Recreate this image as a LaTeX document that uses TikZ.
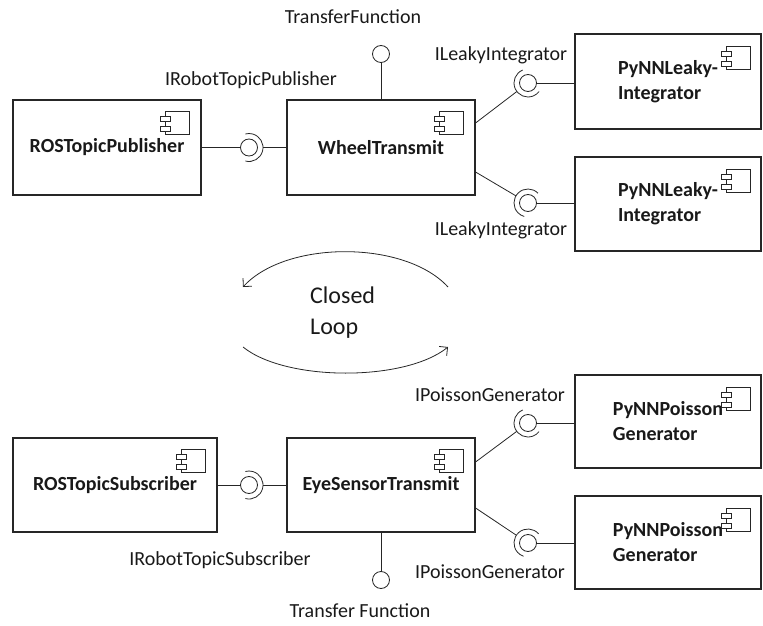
\documentclass[tikz,border=0pt]{standalone}
\usepackage{fontspec}
\setmainfont{Carlito}
\usetikzlibrary{calc,arrows.meta}
\newcommand\mysocket[2]{%
  \draw[conn] let \p1=($(#2)-(#1.center)$), \n1={atan2(\y1,\x1)} in
    ([shift={(\n1-105:14pt)}]#1.center) arc[start angle=\n1-105, end angle=\n1+105, radius=14pt];}
\begin{document}
\begin{tikzpicture}[x=1pt,y=1pt,
  comp/.style={draw=black!85, line width=1.1pt, rectangle, inner sep=0pt},
  lbl/.style={font=\fontsize{20}{24}\selectfont, text=black!90, inner sep=0pt},
  blbl/.style={font=\fontsize{20}{25}\selectfont\bfseries, text=black!90},
  ball/.style={draw=black!85, circle, minimum size=17pt, inner sep=0pt, line width=0.8pt},
  zone/.style={circle, minimum size=28pt, inner sep=0pt},
  conn/.style={draw=black!85, line width=0.8pt},
  compicon/.pic={
    \draw[line width=0.7pt, draw=black!85] (-24,-23) rectangle (0,0);
    \draw[line width=0.7pt, draw=black!85, fill=white] (-29,-5) rectangle (-19,-10);
    \draw[line width=0.7pt, draw=black!85, fill=white] (-29,-15) rectangle (-19,-20);
  },
  loop/.style={draw=black!85, line width=0.8pt, -{Straight Barb[length=6pt,width=12pt]}}
]
\useasboundingbox (0,0) rectangle (763,625);

% upper component boxes
\node[comp, blbl, minimum width=188pt, minimum height=95pt] (rp) at (107,477.5) {ROSTopicPublisher};
\node[comp, blbl, minimum width=188pt, minimum height=95pt] (wt) at (381,477.5) {WheelTransmit};
\node[comp, blbl, align=left, minimum width=186pt, minimum height=95pt] (pl1) at (668,543.5) {PyNNLeaky-\\Integrator};
\node[comp, blbl, align=left, minimum width=186pt, minimum height=94pt] (pl2) at (668,421) {PyNNLeaky-\\Integrator};

% lower component boxes
\node[comp, blbl, minimum width=204pt, minimum height=94pt] (rs) at (115,140) {ROSTopicSubscriber};
\node[comp, blbl, minimum width=188pt, minimum height=94pt] (es) at (381,140) {EyeSensorTransmit};
\node[comp, blbl, align=left, minimum width=186pt, minimum height=93pt] (pp1) at (668,203.5) {PyNNPoisson\\Generator};
\node[comp, blbl, align=left, minimum width=186pt, minimum height=93pt] (pp2) at (668,82.5) {PyNNPoisson\\Generator};

% component icons
\pic at ([shift={(-12,-12)}]rp.north east) {compicon};
\pic at ([shift={(-12,-12)}]wt.north east) {compicon};
\pic at ([shift={(-11,-13)}]pl1.north east) {compicon};
\pic at ([shift={(-11,-13)}]pl2.north east) {compicon};
\pic at ([shift={(-12,-12)}]rs.north east) {compicon};
\pic at ([shift={(-12,-12)}]es.north east) {compicon};
\pic at ([shift={(-11,-13)}]pp1.north east) {compicon};
\pic at ([shift={(-11,-13)}]pp2.north east) {compicon};

% ---- upper interfaces
\node[ball] (b1) at (249,477.5) {};
\node[zone] (k1) at (249,477.5) {};
\draw[conn] (rp.east) -- (b1);
\draw[conn] (k1) -- (wt.west);
\mysocket{k1}{wt.west}

\node[ball] (b0) at (381,571) {};
\draw[conn] (wt.north) -- (b0);

\coordinate (w1) at ([yshift=24.5pt]wt.east);
\coordinate (w2) at ([yshift=-24.5pt]wt.east);
\node[ball] (b3) at (528,542) {};
\node[zone] (k3) at (528,542) {};
\draw[conn] (w1) -- (k3);
\mysocket{k3}{w1}
\draw[conn] (b3) -- (b3 -| pl1.west);

\node[ball] (b4) at (528,422) {};
\node[zone] (k4) at (528,422) {};
\draw[conn] (w2) -- (k4);
\mysocket{k4}{w2}
\draw[conn] (b4) -- (b4 -| pl2.west);

% ---- lower interfaces
\node[ball] (b5) at (249,140) {};
\node[zone] (k5) at (249,140) {};
\draw[conn] (rs.east) -- (b5);
\draw[conn] (k5) -- (es.west);
\mysocket{k5}{es.west}

\node[ball] (b6) at (381,45) {};
\draw[conn] (es.south) -- (b6);

\coordinate (e1) at ([yshift=23pt]es.east);
\coordinate (e2) at ([yshift=-23pt]es.east);
\node[ball] (b7) at (528,202) {};
\node[zone] (k7) at (528,202) {};
\draw[conn] (e1) -- (k7);
\mysocket{k7}{e1}
\draw[conn] (b7) -- (b7 -| pp1.west);

\node[ball] (b8) at (528,82) {};
\node[zone] (k8) at (528,82) {};
\draw[conn] (e2) -- (k8);
\mysocket{k8}{e2}
\draw[conn] (b8) -- (b8 -| pp2.west);

% ---- labels
\node[lbl] (tf1) at (353,608) {TransferFunction};
\node[lbl] (irp) at (251,545) {IRobotTopicPublisher};
\node[lbl] (il1) at (501,570) {ILeakyIntegrator};
\node[lbl] (il2) at (501,395) {ILeakyIntegrator};
\node[lbl] (ip1) at (490,230) {IPoissonGenerator};
\node[lbl] (ip2) at (490,53) {IPoissonGenerator};
\node[lbl] (irs) at (220,65) {IRobotTopicSubscriber};
\node[lbl] (tf2) at (360,14) {Transfer Function};

% ---- closed loop
\node[font=\fontsize{24}{31}\selectfont, text=black!90, align=left, anchor=west, inner sep=0pt] (cl) at (310,312.5) {Closed\\Loop};
\coordinate (la) at (448,338);
\coordinate (lb) at (243,338);
\coordinate (lc) at (243,278);
\coordinate (ld) at (448,278);
\draw[loop] (la) .. controls (405,385) and (286,385) .. (lb);
\draw[loop] (lc) .. controls (286,243.3) and (405,243.3) .. (ld);
\end{tikzpicture}
\end{document}
